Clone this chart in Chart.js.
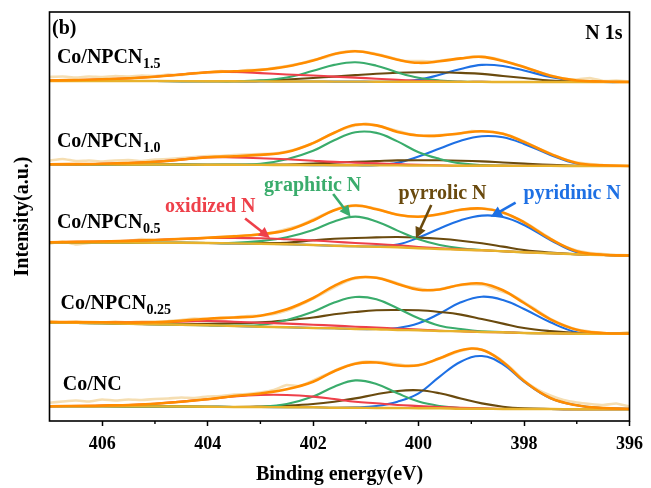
<!DOCTYPE html>
<html>
<head>
<meta charset="utf-8">
<script src="https://cdn.jsdelivr.net/npm/chart.js@4.4.0/dist/chart.umd.min.js"></script>
<style>
  html, body { margin: 0; padding: 0; background: #fff; }
  #chart { display: block; }
</style>
</head>
<body>
<canvas id="chart" width="651" height="488"></canvas>
<script>
// binding energy grid (eV) for the fitted curves
const energy = [407, 406, 405, 404, 403.5, 403, 402.5, 402, 401.6, 401.2, 400.8, 400.4, 400, 399.6, 399.2, 398.8, 398.4, 398, 397.5, 397, 396.5, 396];
// binding energy grid (eV) for the measured spectra
const rawEnergy = [407, 406.75, 406.5, 406.25, 406, 405.75, 405.5, 405.25, 405, 404.75, 404.5, 404.25, 404, 403.75, 403.5, 403.25, 403, 402.75, 402.5, 402.25, 402, 401.75, 401.5, 401.25, 401, 400.75, 400.5, 400.25, 400, 399.75, 399.5, 399.25, 399, 398.75, 398.5, 398.25, 398, 397.75, 397.5, 397.25, 397, 396.75, 396.5, 396.25, 396];
const xTicks = [406, 404, 402, 400, 398, 396];

const sampleNames = ['Co/NPCN', 'Co/NPCN', 'Co/NPCN', 'Co/NPCN', 'Co/NC'];
const sampleSubs = ['1.5', '1.0', '0.5', '0.25', ''];
const componentNames = ['oxidized N', 'graphitic N', 'pyrrolic N', 'pyridinic N'];

// Co/NPCN1.5 (background, then peak heights above background)
const base15 = [340, 340, 340, 339.8, 339.7, 339.6, 339.5, 339.5, 339.4, 339.4, 339.3, 339.3, 339.2, 339.2, 339.1, 339.1, 339, 339, 339, 339, 339, 339];
const env15 = [0.5, 1.7, 4.3, 9, 10, 11.5, 15, 21, 27.5, 30.3, 27.3, 22, 19, 20.5, 23.5, 25, 21, 15, 6.3, 1.5, 0.5, 0];
const oxi15 = [0.5, 1.7, 4.3, 9, 9.3, 8.3, 7, 6, 5, 4, 3, 2, 1, 0.3, 0, 0, 0, 0, 0, 0, 0, 0];
const gra15 = [0, 0, 0, 0, 0, 1, 4, 10.7, 16.7, 19.3, 16, 9.3, 4, 1.3, 0.3, 0, 0, 0, 0, 0, 0, 0];
const pyrr15 = [0, 0, 0, 0, 0, 0.5, 2, 3.5, 5, 6.5, 8, 9, 9.5, 9.5, 9, 8, 6, 4, 1.5, 0.5, 0, 0];
const pyri15 = [0, 0, 0, 0, 0, 0, 0, 0, 0, 0, 0, 0.3, 2, 7, 13, 17, 16, 11.5, 5, 1, 0, 0];
const raw15 = [344, 344.5, 343.5, 344.5, 344, 345, 344.5, 345.5, 345, 346.5, 346, 348, 348.5, 350, 349, 351, 351, 353, 355, 357.5, 361, 364, 368.5, 370, 369, 366.5, 363, 360, 360, 359.5, 361, 362, 364.5, 364, 362, 358, 354, 349.5, 345.5, 342.5, 341.5, 343, 340, 340.5, 339.5];

// Co/NPCN1.0
const base10 = [256.7, 256.6, 256.5, 256.3, 256.2, 256.1, 256, 255.9, 255.8, 255.7, 255.6, 255.6, 255.5, 255.4, 255.3, 255.3, 255.2, 255.1, 255.1, 255, 255, 255];
const env10 = [0, 0.7, 2.7, 7.5, 8.5, 10, 13, 22, 32.5, 40.5, 40, 33.5, 30, 30, 32.5, 34.5, 32, 24, 12, 3, 0.7, 0];
const oxi10 = [0, 0.7, 2.7, 7.3, 7.3, 6.7, 5.7, 4.3, 3.3, 2.7, 2, 1.3, 0.7, 0.3, 0, 0, 0, 0, 0, 0, 0, 0];
const gra10 = [0, 0, 0, 0, 0.3, 1, 5.7, 14.3, 25, 33, 32.5, 24, 13.3, 6.7, 2.3, 0.7, 0.2, 0, 0, 0, 0, 0];
const pyrr10 = [0, 0, 0, 0, 0, 0.2, 0.5, 1.5, 2.5, 3.5, 4.3, 5, 5.3, 5.3, 5, 4.3, 3.3, 2.3, 1, 0.3, 0, 0];
const pyri10 = [0, 0, 0, 0, 0, 0, 0, 0, 0, 0, 0.3, 2.5, 9, 17, 25, 29.5, 28.5, 22, 11, 2.5, 0.3, 0];
const raw10 = [260.5, 262, 260, 260.5, 259.5, 260.5, 261, 260, 261.5, 262, 263, 264, 265, 265, 266, 266.5, 267, 267.5, 269.5, 273, 278, 284.5, 290.5, 295, 297.5, 295, 291.5, 288, 285.5, 285, 286.5, 287, 290, 289.5, 288.5, 285, 279.5, 273, 267.5, 262, 258.5, 257, 256, 255.5, 255.3];

// Co/NPCN0.5
const base05 = [178.5, 178.5, 178.3, 178, 177.6, 177.2, 176.7, 176, 175.3, 174.7, 174.3, 173.7, 172.7, 172, 171.3, 170.7, 169.7, 168.7, 167.7, 166.7, 166, 165.5];
const env05 = [0.3, 1, 2.7, 5.3, 7, 9.5, 14, 24.5, 35.5, 40.8, 37.5, 32.5, 31.5, 35, 40, 41.8, 38.8, 30, 14.3, 3, 0.3, 0];
const oxi05 = [0.3, 1, 2.7, 5, 5.5, 5.5, 5, 4.5, 4, 3.3, 2.7, 2, 1.3, 0.7, 0.3, 0, 0, 0, 0, 0, 0, 0];
const gra05 = [0, 0, 0, 0, 0.5, 2.7, 7, 15, 24.3, 29.7, 25.3, 16.7, 9, 4, 1.3, 0.3, 0, 0, 0, 0, 0, 0];
const pyrr05 = [0, 0, 0, 0, 0.2, 0.7, 1.5, 4.7, 7, 8.3, 9.3, 10.3, 10.7, 10.2, 9, 7, 4.7, 2.3, 0.7, 0, 0, 0];
const pyri05 = [0, 0, 0, 0, 0, 0, 0, 0, 0, 0, 0.3, 2.7, 10.7, 20.5, 29.5, 34.7, 34.3, 27.3, 13.3, 2, 0, 0];
const raw05 = [177.5, 179.5, 176.5, 178, 179.5, 179, 180, 182, 181, 181.5, 182.5, 182, 183.5, 184, 185, 185, 187, 188.5, 192, 195.5, 201.5, 207.5, 213, 215, 214.5, 211.5, 207.5, 205, 204.5, 205.5, 207.5, 211, 212, 212.5, 210, 205, 199, 191, 182.5, 175, 170.5, 168, 167, 166, 165.8];

// Co/NPCN0.25
const base025 = [98.5, 97.7, 96.7, 95.7, 95, 94.3, 93.7, 93, 92.7, 92, 91.7, 91, 90.7, 90, 89.7, 89, 88.7, 88, 87.7, 87.3, 87.3, 87.3];
const env025 = [0.5, 1, 2, 6.5, 8.5, 11, 18, 30, 42.5, 51.2, 51.5, 46, 40.5, 41.5, 46.5, 48.5, 42, 30, 14, 4, 0.7, 0];
const oxi025 = [0.5, 1, 2, 4.3, 4.3, 4, 3.7, 3.3, 2.7, 2.3, 1.7, 1.3, 0.7, 0.3, 0, 0, 0, 0, 0, 0, 0, 0];
const gra025 = [0, 0, 0, 0, 0.5, 1.7, 7.3, 16.3, 25.7, 32, 30, 21.7, 12, 5.3, 2.3, 0.7, 0.2, 0, 0, 0, 0, 0];
const pyrr025 = [0, 0, 0, 1.5, 2.7, 4.3, 7, 10.5, 14, 17, 19, 20, 20, 19, 16.7, 13, 8.7, 5, 2.2, 0.7, 0, 0];
const pyri025 = [0, 0, 0, 0, 0, 0, 0, 0, 0, 0, 0.3, 2, 7, 17.5, 29, 35.3, 32.3, 24, 11, 1.5, 0, 0];
const raw025 = [100, 98.5, 99.5, 98, 98.5, 99.5, 98.5, 99.5, 99.5, 100, 101, 102.5, 102, 103.5, 103.5, 105, 105.5, 107, 110.5, 116, 122.5, 129.5, 136.5, 142, 144, 143, 139.5, 135, 132.5, 130.5, 133, 135.5, 136.5, 136, 131, 126.5, 119, 110.5, 102, 96, 91.5, 89.5, 88, 87.5, 89];

// Co/NC
const baseNC = [14.8, 14.7, 14.6, 14.3, 14, 14, 13.7, 13.7, 13.3, 13.3, 13, 13, 12.7, 12.7, 12.3, 12.3, 12, 12, 12, 11.7, 11.7, 11.7];
const envNC = [0, 0.7, 2.7, 7.5, 11, 13.5, 18, 25.5, 36.5, 44, 45.5, 42.5, 43, 50, 58.5, 59, 47, 28, 11, 4, 1.3, 0.5];
const oxiNC = [0, 0.7, 2.7, 7.5, 10.5, 12, 12.3, 10.7, 8.7, 6, 4.7, 3, 2.3, 1.3, 1, 0.3, 0, 0, 0, 0, 0, 0];
const graNC = [0, 0, 0, 0, 0, 0.3, 3.3, 10.7, 21, 27.3, 24, 14.7, 6.7, 2.3, 0.7, 0.2, 0, 0, 0, 0, 0, 0];
const pyrrNC = [0, 0, 0, 0, 0, 0.5, 1.7, 3.3, 6, 9.3, 13.7, 17, 18, 15, 10.3, 5.3, 2.3, 0.7, 0, 0, 0, 0];
const pyriNC = [0, 0, 0, 0, 0, 0, 0, 0, 0, 0.3, 2, 6.3, 15, 31.7, 47, 52.7, 44.7, 27.3, 10.7, 4, 1.3, 0.5];
const rawNC = [18.3, 19.5, 20.5, 19.5, 21.5, 20.5, 21.5, 21, 22, 22.5, 23.5, 23, 24.5, 25, 26.5, 27, 28.5, 31, 36, 35, 40.5, 46.5, 52.5, 57, 59.5, 59, 57.5, 55.5, 56, 59.5, 64.5, 69.5, 72.5, 70.5, 63.5, 53, 40.5, 31.5, 25.5, 21, 18.5, 17, 16, 17.5, 14.5];

const spectra = [
  { base: base15, env: env15, raw: raw15, parts: [oxi15, gra15, pyrr15, pyri15] },
  { base: base10, env: env10, raw: raw10, parts: [oxi10, gra10, pyrr10, pyri10] },
  { base: base05, env: env05, raw: raw05, parts: [oxi05, gra05, pyrr05, pyri05] },
  { base: base025, env: env025, raw: raw025, parts: [oxi025, gra025, pyrr025, pyri025] },
  { base: baseNC, env: envNC, raw: rawNC, parts: [oxiNC, graNC, pyrrNC, pyriNC] },
];

const rawColor = 'rgb(245, 222, 178)';
const baseColor = 'rgb(232, 178, 44)';
const envColor = '#ff8c00';
const partColors = ['rgb(238, 64, 74)', 'rgb(58, 172, 108)', 'rgb(106, 74, 14)', 'rgb(30, 112, 228)'];
const serif = '"Liberation Serif", "Times New Roman", serif';

function onBase(base, heights) {
  return energy.map((e, i) => ({ x: e, y: base[i] + heights[i] }));
}

function lineSet(label, data, color, width, order, tension) {
  return {
    label, data, order, tension,
    borderColor: color,
    borderWidth: width,
    pointRadius: 0,
    fill: false,
  };
}

const datasets = [];
spectra.forEach((s, k) => {
  datasets.push(lineSet('fit ' + k, onBase(s.base, s.env), envColor, 2.6, 0, 0.4));
  datasets.push(lineSet('background ' + k, energy.map((e, i) => ({ x: e, y: s.base[i] })), baseColor, 2.4, 1, 0.4));
  s.parts.forEach((p, j) => {
    datasets.push(lineSet(componentNames[j] + ' ' + k, onBase(s.base, p), partColors[j], 2.1, 2, 0.4));
  });
  datasets.push(lineSet('raw ' + k, rawEnergy.map((e, i) => ({ x: e, y: s.raw[i] })), rawColor, 2.6, 3, 0.1));
});

// label anchors in data units (eV, intensity)
const labelAnchors = [[406.86, 358.3], [406.86, 274.3], [406.86, 192.7], [406.79, 112.5], [406.75, 31]];
const notes = [
  { text: 'oxidized N', color: partColors[0], at: [404.81, 209.5], from: [403.29, 202.5], to: [402.82, 183] },
  { text: 'graphitic N', color: partColors[1], at: [402.93, 230.5], from: [401.62, 227], to: [401.29, 204.3] },
  { text: 'pyrrolic N', color: partColors[2], at: [400.38, 222], from: [399.76, 216], to: [400.05, 182.7] },
  { text: 'pyridinic N', color: partColors[3], at: [398.01, 222.5], from: [398.16, 218.3], to: [398.63, 204.3] },
];

function drawArrow(ctx, x1, y1, x2, y2, color) {
  const a = Math.atan2(y2 - y1, x2 - x1);
  const head = 11, half = 5.5;
  const c = Math.cos(a), s = Math.sin(a);
  ctx.strokeStyle = color;
  ctx.fillStyle = color;
  ctx.lineWidth = 2.6;
  ctx.beginPath();
  ctx.moveTo(x1, y1);
  ctx.lineTo(x2 - c * head * 0.8, y2 - s * head * 0.8);
  ctx.stroke();
  ctx.beginPath();
  ctx.moveTo(x2, y2);
  ctx.lineTo(x2 - c * head + s * half, y2 - s * head - c * half);
  ctx.lineTo(x2 - c * head - s * half, y2 - s * head + c * half);
  ctx.closePath();
  ctx.fill();
}

const decor = {
  id: 'decor',
  afterDraw(chart) {
    const { ctx, chartArea: a, scales: { x, y } } = chart;
    ctx.save();

    // frame
    ctx.strokeStyle = '#000';
    ctx.lineWidth = 1.6;
    ctx.strokeRect(a.left, a.top, a.right - a.left, a.bottom - a.top);

    // minor ticks
    ctx.lineWidth = 1.4;
    [397, 399, 401, 403, 405].forEach(v => {
      const px = x.getPixelForValue(v);
      ctx.beginPath();
      ctx.moveTo(px, a.bottom);
      ctx.lineTo(px, a.bottom + 3);
      ctx.stroke();
    });

    ctx.fillStyle = '#000';
    ctx.textBaseline = 'alphabetic';
    ctx.font = 'bold 20px ' + serif;
    ctx.textAlign = 'left';
    ctx.fillText('(b)', a.left + 2.5, a.top + 21.5);
    ctx.textAlign = 'right';
    ctx.fillText('N 1s', a.right - 7, a.top + 27);

    // sample labels
    ctx.textAlign = 'left';
    labelAnchors.forEach((p, k) => {
      const px = x.getPixelForValue(p[0]);
      const py = y.getPixelForValue(p[1]);
      ctx.font = 'bold 20px ' + serif;
      ctx.fillText(sampleNames[k], px, py);
      if (sampleSubs[k]) {
        const w = ctx.measureText(sampleNames[k]).width;
        ctx.font = 'bold 14px ' + serif;
        ctx.fillText(sampleSubs[k], px + w + 0.5, py + 5);
      }
    });

    // component notes with arrows
    notes.forEach(n => {
      ctx.font = 'bold 20px ' + serif;
      ctx.fillStyle = n.color;
      ctx.fillText(n.text, x.getPixelForValue(n.at[0]), y.getPixelForValue(n.at[1]));
      drawArrow(ctx,
        x.getPixelForValue(n.from[0]), y.getPixelForValue(n.from[1]),
        x.getPixelForValue(n.to[0]), y.getPixelForValue(n.to[1]), n.color);
    });

    ctx.restore();
  }
};

new Chart(document.getElementById('chart'), {
  type: 'line',
  data: { datasets },
  options: {
    responsive: false,
    devicePixelRatio: 1,
    animation: false,
    events: [],
    parsing: false,
    layout: { padding: { top: 12, right: 16, bottom: 0, left: 0 } },
    plugins: { legend: { display: false }, tooltip: { enabled: false } },
    scales: {
      x: {
        type: 'linear',
        reverse: true,
        min: 396,
        max: 407,
        afterBuildTicks: s => { s.ticks = xTicks.map(v => ({ value: v })); },
        afterFit: s => { s.height = 67; },
        border: { display: false },
        grid: { display: true, drawOnChartArea: false, drawTicks: true, tickLength: 5, tickColor: '#000', tickWidth: 1.5 },
        ticks: { padding: 8, color: '#000', font: { family: serif, size: 18, weight: 'bold' } },
        title: {
          display: true,
          text: 'Binding energy(eV)',
          color: '#000',
          font: { family: serif, size: 20, weight: 'bold', lineHeight: 1 },
          padding: { top: 0, bottom: 3 },
        },
      },
      y: {
        type: 'linear',
        min: 0,
        max: 409,
        afterFit: s => { s.width = 49.5; },
        border: { display: false },
        grid: { display: false },
        ticks: { display: false },
        title: {
          display: true,
          text: 'Intensity(a.u.)',
          color: '#000',
          font: { family: serif, size: 20, weight: 'bold', lineHeight: 1 },
          padding: { top: 13, bottom: 0 },
        },
      },
    },
  },
  plugins: [decor],
});
</script>
</body>
</html>
